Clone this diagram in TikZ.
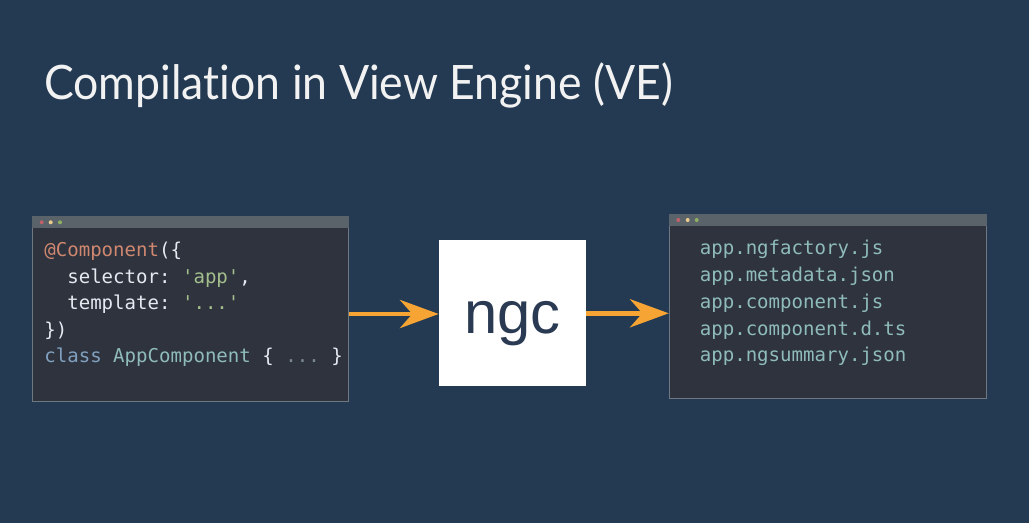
\documentclass[tikz,border=0pt]{standalone}
\usepackage{fontspec}
\setmainfont{Lato}[Ligatures=NoCommon, FakeStretch=0.94]
\setmonofont{DejaVu Sans Mono}
\newfontfamily\ngcfont{Liberation Sans}
\usetikzlibrary{arrows.meta, positioning}
\definecolor{bgnavy}{HTML}{233A52}
\definecolor{winbody}{HTML}{2E333D}
\definecolor{winbar}{HTML}{5B636A}
\definecolor{winedge}{HTML}{6E7882}
\definecolor{arrorange}{HTML}{F6A534}
\definecolor{codewhite}{HTML}{E5E9F0}
\definecolor{decor}{HTML}{D08770}
\definecolor{strgreen}{HTML}{A3BE8C}
\definecolor{kwblue}{HTML}{81A1C1}
\definecolor{clsteal}{HTML}{8FBCBB}
\definecolor{dotgray}{HTML}{7B8896}
\definecolor{ngcnavy}{HTML}{2A3A52}
\definecolor{dotred}{HTML}{BF616A}
\definecolor{dotyellow}{HTML}{EBCB8B}
\definecolor{dotgreen}{HTML}{8FB060}

\begin{document}
\begin{tikzpicture}[x=0.02cm, y=-0.02cm,
  >={Stealth[length=22pt, width=16pt, inset=7pt]},
  win/.style={fill=winbody, draw=winedge, line width=0.6pt, inner sep=0pt},
  code/.style={anchor=base west, inner sep=0pt, text=codewhite,
               font=\ttfamily\fontsize{10.85}{12}\selectfont},
  flow/.style={->, arrorange, line width=2.8pt}]

% Background
\fill[bgnavy] (0,0) rectangle (1029,523);
\useasboundingbox (0,0) rectangle (1029,523);

\node[anchor=base west, inner sep=0pt, text=white!95!black,
      font=\fontsize{27}{30}\selectfont] (title) at (44,100)
  {Compilation in View Engine (VE)};

% Source window
\node[win, minimum width=6.34cm, minimum height=3.71cm] (src) at (190.5,308.8) {};
\fill[winbar] (src.north west) rectangle ([yshift=-0.24cm]src.north east);
\fill[dotred]    (41.7,222.3) circle (2);
\fill[dotyellow] (50.7,222.3) circle (2);
\fill[dotgreen]  (60,222.3) circle (2);

\node[code] (src1) at (44,257) {\textcolor{decor}{@Component}(\{};
\node[code] (src2) at (44,283.5) {\ \ selector: \textcolor{strgreen}{'app'},};
\node[code] (src3) at (44,310) {\ \ template: \textcolor{strgreen}{'...'}};
\node[code] (src4) at (44,336.5) {\})};
\node[code] (src5) at (44,363) {\textcolor{kwblue}{class} \textcolor{clsteal}{AppComponent} \{ \textcolor{dotgray}{...} \}};

% Compiler
\node[fill=white, minimum width=2.94cm, minimum height=2.94cm, inner sep=0pt,
      text=ngcnavy, font=\ngcfont\fontsize{34}{38}\selectfont] (ngc) at (512.5,313)
  {\raisebox{0pt}[22.8pt][0pt]{ngc}};

% Output window
\node[win, minimum width=6.34cm, minimum height=3.69cm] (out) at (827.7,306.7) {};
\fill[winbar] (out.north west) rectangle ([yshift=-0.25cm]out.north east);
\fill[dotred]    (678.3,220) circle (2);
\fill[dotyellow] (687.7,220) circle (2);
\fill[dotgreen]  (696.7,220) circle (2);

\foreach \f [count=\i] in {app.ngfactory.js, app.metadata.json, app.component.js,
                           app.component.d.ts, app.ngsummary.json}
  \node[code, text=clsteal] (out\i) at (699.5,{255+26.7*(\i-1)}) {\f};

\draw[flow] (src.east |- 0,314) -- (ngc.west |- 0,314);
\draw[flow] (ngc.east |- 0,313.3) -- (out.west |- 0,313.3);

\end{tikzpicture}
\end{document}
